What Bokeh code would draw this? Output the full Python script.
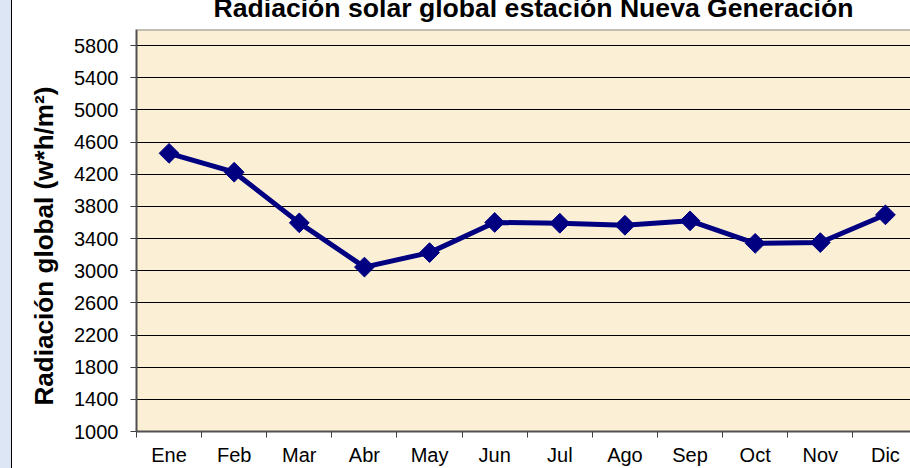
import math
from bokeh.plotting import figure
from bokeh.models import (FixedTicker, Title, Div, Range1d, Span, ColumnDataSource,
                          GlobalInlineStyleSheet)
from bokeh.layouts import row
from bokeh.embed import file_html
from bokeh.resources import INLINE

# ---- data ----
months = ["Ene", "Feb", "Mar", "Abr", "May", "Jun", "Jul", "Ago", "Sep", "Oct", "Nov", "Dic"]
radiacion = [4460, 4225, 3595, 3045, 3225, 3600, 3590, 3565, 3620, 3340, 3350, 3695]
y_ticks = [1000, 1400, 1800, 2200, 2600, 3000, 3400, 3800, 4200, 4600, 5000, 5400, 5800]
title_text = "Radiación solar global estación Nueva Generación"
ylabel_text = "Radiación global (w*h/m²)"

FONT = "Liberation Sans"
STRIP_W = 12
SHIFT = 17          # canvas starts above the window top (title is clipped like the reference)
W, H = 910 - STRIP_W, 468 + SHIFT
BL, BB = 124, 37

src = ColumnDataSource(dict(x=list(range(len(months))), y=radiacion))

p = figure(width=W, height=H, output_backend="svg", toolbar_location=None,
           x_range=Range1d(-0.5, 11.385), y_range=Range1d(1000, 6000),
           min_border_left=BL, min_border_right=0, min_border_top=0, min_border_bottom=BB)
p.background_fill_color = "#FBEFD6"
p.border_fill_color = "white"
p.outline_line_color = None

p.title.text = title_text
p.title.align = "left"
p.title.offset = 77
p.title.standoff = 14
p.title.text_font = FONT
p.title.text_font_size = "26.6px"
p.title.text_font_style = "bold"
p.title.text_color = "black"

ytitle = Title(text=ylabel_text, align="left", offset=26, standoff=25,
               text_font=FONT, text_font_size="26.1px", text_font_style="bold",
               text_color="black")
p.add_layout(ytitle, "left")

# x axis
xt = FixedTicker(ticks=list(range(len(months))), minor_ticks=[k - 0.5 for k in range(len(months) + 1)])
p.xaxis.ticker = xt
p.xaxis.major_label_overrides = {i: m for i, m in enumerate(months)}
p.xaxis.major_tick_out = 0
p.xaxis.major_tick_in = 0
p.xaxis.minor_tick_out = 6
p.xaxis.minor_tick_in = 0
p.xaxis.minor_tick_line_color = "#404040"
p.xaxis.major_label_standoff = 6
p.xaxis.axis_line_color = "#505050"
p.xaxis.axis_line_width = 2
p.xaxis.major_label_text_font = FONT
p.xaxis.major_label_text_font_size = "20px"
p.xaxis.major_label_text_color = "black"
p.xgrid.visible = False

# y axis
p.yaxis.ticker = FixedTicker(ticks=y_ticks, minor_ticks=[])
p.yaxis.major_tick_out = 6
p.yaxis.major_tick_in = 0
p.yaxis.major_tick_line_color = "#404040"
p.yaxis.major_label_standoff = 12
p.yaxis.axis_line_color = "#505050"
p.yaxis.axis_line_width = 2
p.yaxis.major_label_text_font = FONT
p.yaxis.major_label_text_font_size = "20px"
p.yaxis.major_label_text_color = "black"
p.ygrid.ticker = FixedTicker(ticks=y_ticks)
p.ygrid.grid_line_color = "black"
p.ygrid.grid_line_width = 1

p.add_layout(Span(location=6000, dimension="width", line_color="#8a8a8a", line_width=2))

p.line("x", "y", source=src, line_color="#000080", line_width=5)
p.scatter("x", "y", source=src, marker="square", size=14, angle=math.pi / 4,
          fill_color="#000080", line_color="#000080")

strip = Div(text="", width=STRIP_W, height=H, margin=0,
            styles={"background-color": "#DCE6F4", "border-right": "1px solid #000",
                    "box-sizing": "border-box"})

css = GlobalInlineStyleSheet(css=(
    "html, body { margin: 0 !important; padding: 0 !important; overflow: hidden !important; }"))
layout = row(strip, p, stylesheets=[css],
             styles={"position": "relative", "top": f"-{SHIFT}px"})

open("out.html", "w").write(file_html(layout, INLINE))
